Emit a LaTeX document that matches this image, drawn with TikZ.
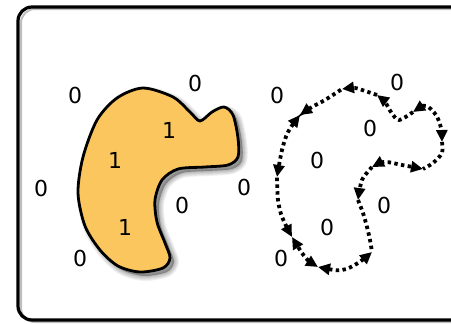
\documentclass[tikz,border=0pt]{standalone}
\usepackage{fontspec}
\setmainfont{DejaVu Sans}
\usetikzlibrary{arrows.meta}
\definecolor{blobfill}{RGB}{252,198,94}
\tikzset{
  digit/.style={inner sep=0pt, font=\fontsize{22}{24}\selectfont, text=black},
  dotline/.style={line width=3.8pt, dash pattern=on 3.4pt off 3.4pt, black,
    >={Triangle[length=12pt,width=11pt]}},
  frame/.style={line width=3.2pt, rounded corners=14pt, black},
}
\begin{document}
\begin{tikzpicture}[x=1pt,y=-1pt]
\useasboundingbox (0,0) rectangle (451,324);
\begin{scope}
\clip (0,0) rectangle (451,324);
% frame shadow + frame
\draw[frame, gray!50, line width=2pt] (21,9) rectangle (475,322);
\draw[frame] (18,7) rectangle (472,320);
\end{scope}
% blob shadow
\def\blobpath{plot[smooth cycle] coordinates {(143,88) (173,97) (190,112) (200,121) (212,112) (224,107) (233,115) (238,138) (238,157) (228,165) (205,167) (178,169) (162,180) (155,200) (157,222) (165,243) (170,258) (163,268) (140,272) (118,266) (100,250) (85,226) (78,193) (83,157) (97,120) (117,98)}}
\begin{scope}[shift={(4,4)}]
\foreach \w in {10,8,6,4,2}{
  \draw[black, opacity=0.06, line width=\w pt, line join=round] \blobpath;
}
\fill[black, opacity=0.3] \blobpath;
\end{scope}
\draw[fill=blobfill, line width=2.8pt, line join=round] \blobpath;
% dotted outline vertices
\coordinate (A) at (277,177);
\coordinate (B) at (300,115);
\coordinate (C) at (342,89);
\coordinate (D) at (377,95);
\coordinate (E) at (413,112);
\coordinate (F) at (442,142);
\coordinate (G) at (423,169);
\coordinate (H) at (372,167);
\coordinate (I) at (358,200);
\coordinate (J) at (372,252);
\coordinate (K) at (318,267);
\coordinate (L) at (292,237);
\draw[dotline,<->] plot[smooth] coordinates {(B) (288,132) (282,150) (A)};
\draw[dotline,<-] plot[smooth] coordinates {(B) (312,107) (325,100) (C)};
\draw[dotline,->] plot[smooth] coordinates {(D) (365,91) (355,88) (C)};
\draw[dotline,->] plot[smooth] coordinates {(E) (399,120) (391,112) (385,102) (D)};
\draw[dotline,<->] plot[smooth] coordinates {(E) (426,106) (436,115) (441,128) (F)};
\draw[dotline] plot[smooth] coordinates {(F) (442,153) (433,163) (G)};
\draw[dotline,<->] plot[smooth] coordinates {(H) (385,162) (402,165) (G)};
\draw[dotline,->] plot[smooth] coordinates {(H) (362,180) (I)};
\draw[dotline] plot[smooth] coordinates {(I) (363,213) (367,227) (370,240) (J)};
\draw[dotline,<->] plot[smooth] coordinates {(K) (342,270) (358,263) (J)};
\draw[dotline,<->] plot[smooth] coordinates {(K) (305,257) (L)};
\draw[dotline,<-] plot[smooth] coordinates {(L) (282,217) (278,200) (A)};
% labels
\node[digit] (l1) at (75,95) {0};
\node[digit] (l2) at (195,83) {0};
\node[digit] (l3) at (169,130) {1};
\node[digit] (l4) at (115,160) {1};
\node[digit] (l5) at (41,188) {0};
\node[digit] (l6) at (182,205) {0};
\node[digit] (l7) at (125,227) {1};
\node[digit] (l8) at (80,258) {0};
\node[digit] (l9) at (244,187) {0};
\node[digit] (r1) at (277,95) {0};
\node[digit] (r2) at (397,82) {0};
\node[digit] (r3) at (370,128) {0};
\node[digit] (r4) at (317,160) {0};
\node[digit] (r5) at (384,205) {0};
\node[digit] (r6) at (327,227) {0};
\node[digit] (r7) at (281,258) {0};
\end{tikzpicture}
\end{document}
